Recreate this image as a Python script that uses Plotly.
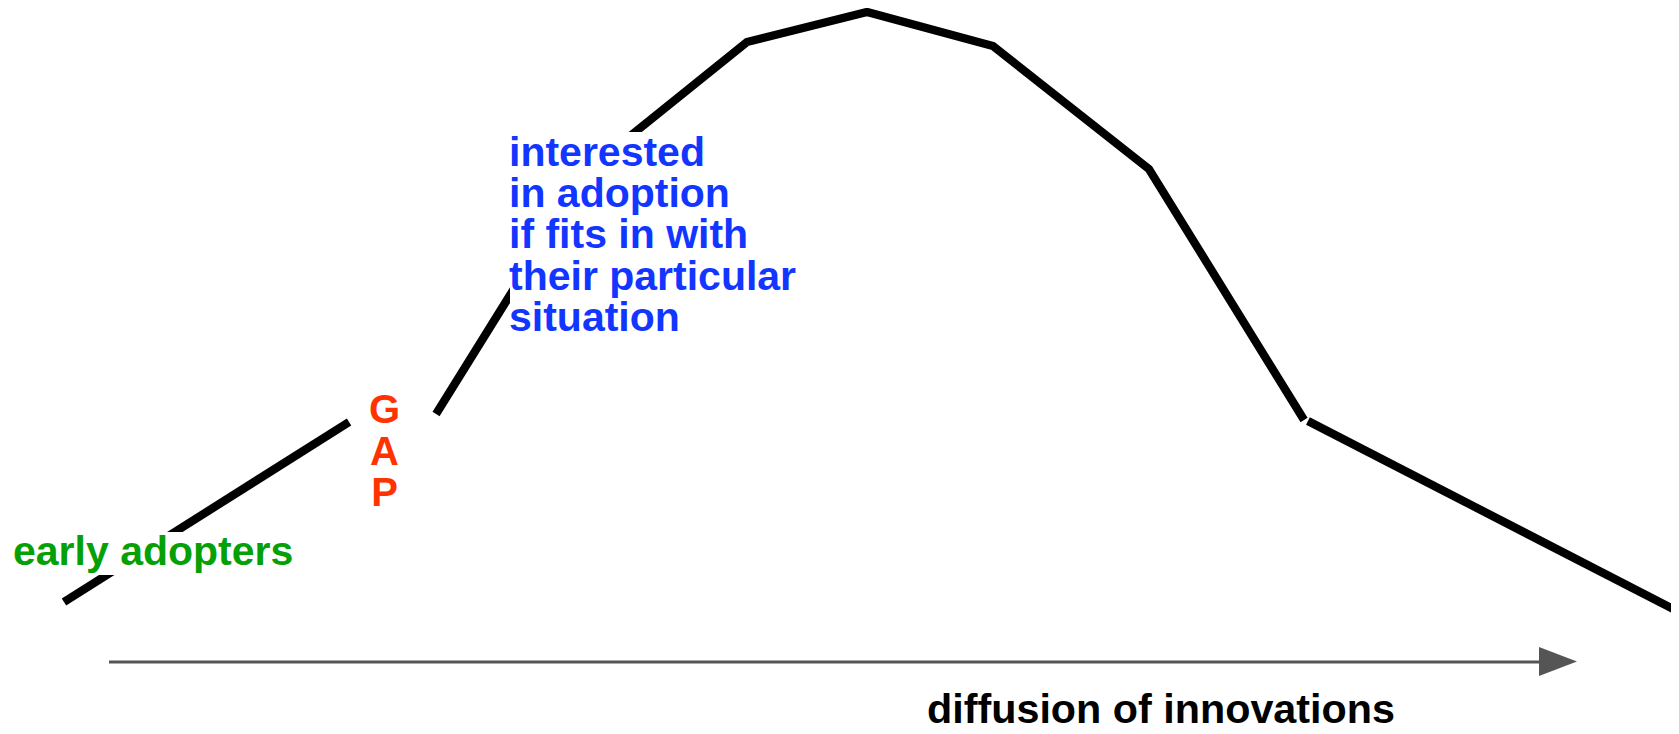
import plotly.graph_objects as go

# ---- data: diffusion stage (0-100) vs. level of adoption (0-100) ----
early_x = [3.81, 20.79]
early_y = [17.98, 42.51]
majority_x = [25.97, 35.02, 44.49, 51.64, 59.14, 68.43, 77.67]
majority_y = [43.60, 76.84, 94.28, 98.37, 93.73, 76.98, 42.78]
laggard_x = [77.90, 100.0]
laggard_y = [42.64, 16.62]

early_label = "early adopters"
gap_letters = ["G", "A", "P"]
majority_lines = ["interested", "in adoption", "if fits in with",
                  "their particular", "situation"]
axis_title = "diffusion of innovations"

# ---- page geometry (the page body keeps an 8px margin) ----
VW, VH = 1679, 734          # browser window
OFF = 8                     # default body margin of the html page
W, H = VW - OFF, VH - OFF   # figure size

FONT = "Liberation Sans, Arial, Helvetica, sans-serif"
GREEN = "#05A005"
BLUE = "#1236FF"
RED = "#FF3300"
GREY = "#555555"
LINE_W = 8.3
ASC = 0.905   # ascent of the font, in em


def px(x):
    """window pixel x -> paper fraction"""
    return (x - OFF) / W


def py(y):
    """window pixel y (from top) -> paper fraction"""
    return 1 - (y - OFF) / H


def mid_from_baseline(b, size):
    return b - 0.3465 * size


def stacked(lines, size, leading):
    """multi-line text with a custom leading (plotly uses 1.3em per line)"""
    body = "<br>".join(f'<span style="font-size:{size}px">{t}</span>' for t in lines)
    return body, leading / 1.3


fig = go.Figure()
for xs, ys in [(early_x, early_y), (majority_x, majority_y), (laggard_x, laggard_y)]:
    fig.add_trace(go.Scatter(x=xs, y=ys, mode="lines",
                             line=dict(color="black", width=LINE_W),
                             hoverinfo="skip", showlegend=False))

ann = []
F = 41
# early adopters
ann.append(dict(text=early_label, x=px(11), y=py(mid_from_baseline(565, F)),
                xref="paper", yref="paper",
                xanchor="left", yanchor="middle", showarrow=False,
                font=dict(family=FONT, size=F, color=GREEN, weight="bold")))
# GAP
gap_text, gap_base = stacked(gap_letters, 40, 41.5)
ann.append(dict(text=gap_text, x=px(384), y=py(422 - ASC * 40),
                xref="paper", yref="paper", xanchor="center", yanchor="top",
                align="center", showarrow=False, borderpad=0,
                font=dict(family=FONT, size=gap_base, color=RED, weight="bold")))
# early majority description
maj_text, maj_base = stacked(majority_lines, F, 41.2)
ann.append(dict(text=maj_text, x=px(508), y=py(165 - ASC * F),
                xref="paper", yref="paper", xanchor="left", yanchor="top",
                align="left", showarrow=False, borderpad=0,
                font=dict(family=FONT, size=maj_base, color=BLUE, weight="bold")))
# axis title
ann.append(dict(text=axis_title, x=px(925), y=py(mid_from_baseline(723, 41.3)),
                xref="paper", yref="paper", xanchor="left", yanchor="middle",
                showarrow=False,
                font=dict(family=FONT, size=41.3, color="black", weight="bold")))

shapes = [
    # white text panels that mask the curve behind the labels
    dict(type="rect", xref="paper", yref="paper", layer="above",
         x0=px(11), x1=px(296), y0=py(575), y1=py(532),
         fillcolor="white", line=dict(width=0)),
    dict(type="rect", xref="paper", yref="paper", layer="above",
         x0=px(510), x1=px(800), y0=py(338), y1=py(132),
         fillcolor="white", line=dict(width=0)),
    # diffusion axis arrow
    dict(type="line", xref="paper", yref="paper",
         x0=px(109), x1=px(1541), y0=py(662), y1=py(662),
         line=dict(color=GREY, width=3)),
    dict(type="path", xref="paper", yref="paper",
         path=f"M {px(1539)} {py(647)} L {px(1577)} {py(661.5)} L {px(1539)} {py(676)} Z",
         fillcolor=GREY, line=dict(color=GREY, width=0)),
]

fig.update_layout(
    width=W, height=H,
    margin=dict(l=0, r=0, t=0, b=0),
    paper_bgcolor="white", plot_bgcolor="white",
    xaxis=dict(range=[OFF / 16.79, 100], visible=False, fixedrange=True),
    yaxis=dict(range=[0, H / 7.34], visible=False, fixedrange=True),
    annotations=ann, shapes=shapes, showlegend=False,
)

fig.write_html("out.html")
